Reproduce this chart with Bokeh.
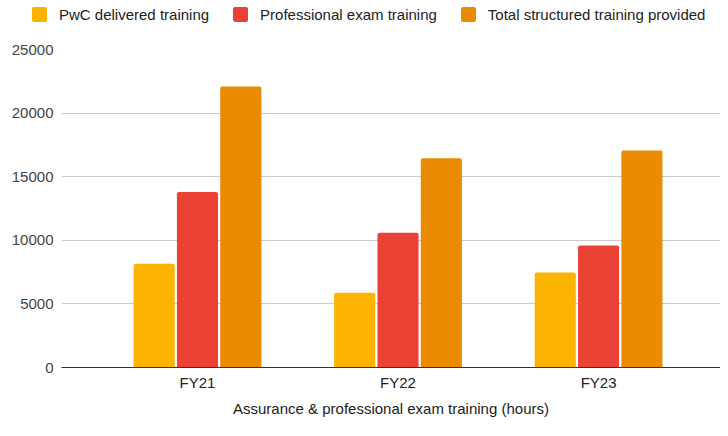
from bokeh.plotting import figure
from bokeh.layouts import column
from bokeh.models import ColumnDataSource, Range1d, FixedTicker, Div
from bokeh.embed import file_html
from bokeh.resources import INLINE

# ---- data ----
categories = ["FY21", "FY22", "FY23"]
series_names = ["PwC delivered training", "Professional exam training",
                "Total structured training provided"]
pwc_delivered = [8150, 5870, 7470]
professional_exam = [13800, 10590, 9590]
total_structured = [22100, 16450, 17060]
y_ticks = [0, 5000, 10000, 15000, 20000, 25000]
x_title = "Assurance & professional exam training (hours)"

colors = ["#FCB400", "#EA4335", "#EA8B00"]
FONT = "Liberation Sans"
series_values = [pwc_delivered, professional_exam, total_structured]

# ---- legend strip (HTML text above the chart) ----
items_html = "".join(
    f'<span style="display:inline-flex;align-items:center;margin-right:24px;">'
    f'<span style="display:inline-block;width:15px;height:15px;background:{c};'
    f'border-radius:2px;margin-right:12px;"></span>'
    f'<span>{n}</span></span>'
    for n, c in zip(series_names, colors)
)
legend_div = Div(
    text=(f'<div style="display:flex;align-items:center;padding:7px 0 0 32px;'
          f'font-family:\'{FONT}\';font-size:15px;line-height:15px;color:#222222;'
          f'white-space:nowrap;">{items_html}</div>'),
    width=720, height=41, margin=(0, 0, 0, 0))

# ---- main chart ----
p = figure(frame_width=659, frame_height=318, output_backend="svg", toolbar_location=None,
           x_range=Range1d(-0.678, 2.608), y_range=Range1d(0, 25000),
           min_border_left=61, min_border_right=0, min_border_top=8,
           min_border_bottom=53)
p.outline_line_color = None
p.background_fill_color = "white"

idx = list(range(len(categories)))
offsets = [-0.216, 0.0, 0.216]
for vals, off, col in zip(series_values, offsets, colors):
    src = ColumnDataSource(dict(x=[i + off for i in idx], top=vals))
    p.vbar(x="x", top="top", bottom=0, width=0.205, source=src,
           fill_color=col, line_color=None, border_radius=(2, 2, 0, 0))

# axes
p.xaxis.ticker = FixedTicker(ticks=idx)
p.xaxis.major_label_overrides = {i: c for i, c in zip(idx, categories)}
p.xaxis.major_tick_line_color = None
p.xaxis.minor_tick_line_color = None
p.xaxis.major_tick_out = 0
p.xaxis.major_tick_in = 0
p.xaxis.minor_tick_out = 0
p.xaxis.minor_tick_in = 0
p.xaxis.axis_line_color = "#333333"
p.xaxis.axis_line_width = 1
p.xaxis.major_label_standoff = 6
p.xaxis.major_label_text_font = FONT
p.xaxis.major_label_text_font_size = "15px"
p.xaxis.major_label_text_color = "#222222"
p.xaxis.axis_label = x_title
p.xaxis.axis_label_text_font = FONT
p.xaxis.axis_label_text_font_size = "15px"
p.xaxis.axis_label_text_font_style = "normal"
p.xaxis.axis_label_text_color = "#222222"
p.xaxis.axis_label_standoff = 6

p.yaxis.ticker = FixedTicker(ticks=y_ticks)
p.yaxis.axis_line_color = None
p.yaxis.major_tick_line_color = None
p.yaxis.minor_tick_line_color = None
p.yaxis.major_tick_out = 0
p.yaxis.major_tick_in = 0
p.yaxis.minor_tick_out = 0
p.yaxis.minor_tick_in = 0
p.yaxis.major_label_standoff = 8
p.yaxis.major_label_text_font = FONT
p.yaxis.major_label_text_font_size = "15px"
p.yaxis.major_label_text_color = "#444444"

p.xgrid.grid_line_color = None
p.ygrid.ticker = FixedTicker(ticks=y_ticks)
p.ygrid.grid_line_color = "#cccccc"
p.ygrid.grid_line_width = 1

layout = column(legend_div, p, spacing=0)
open("out.html", "w").write(file_html(layout, INLINE))
